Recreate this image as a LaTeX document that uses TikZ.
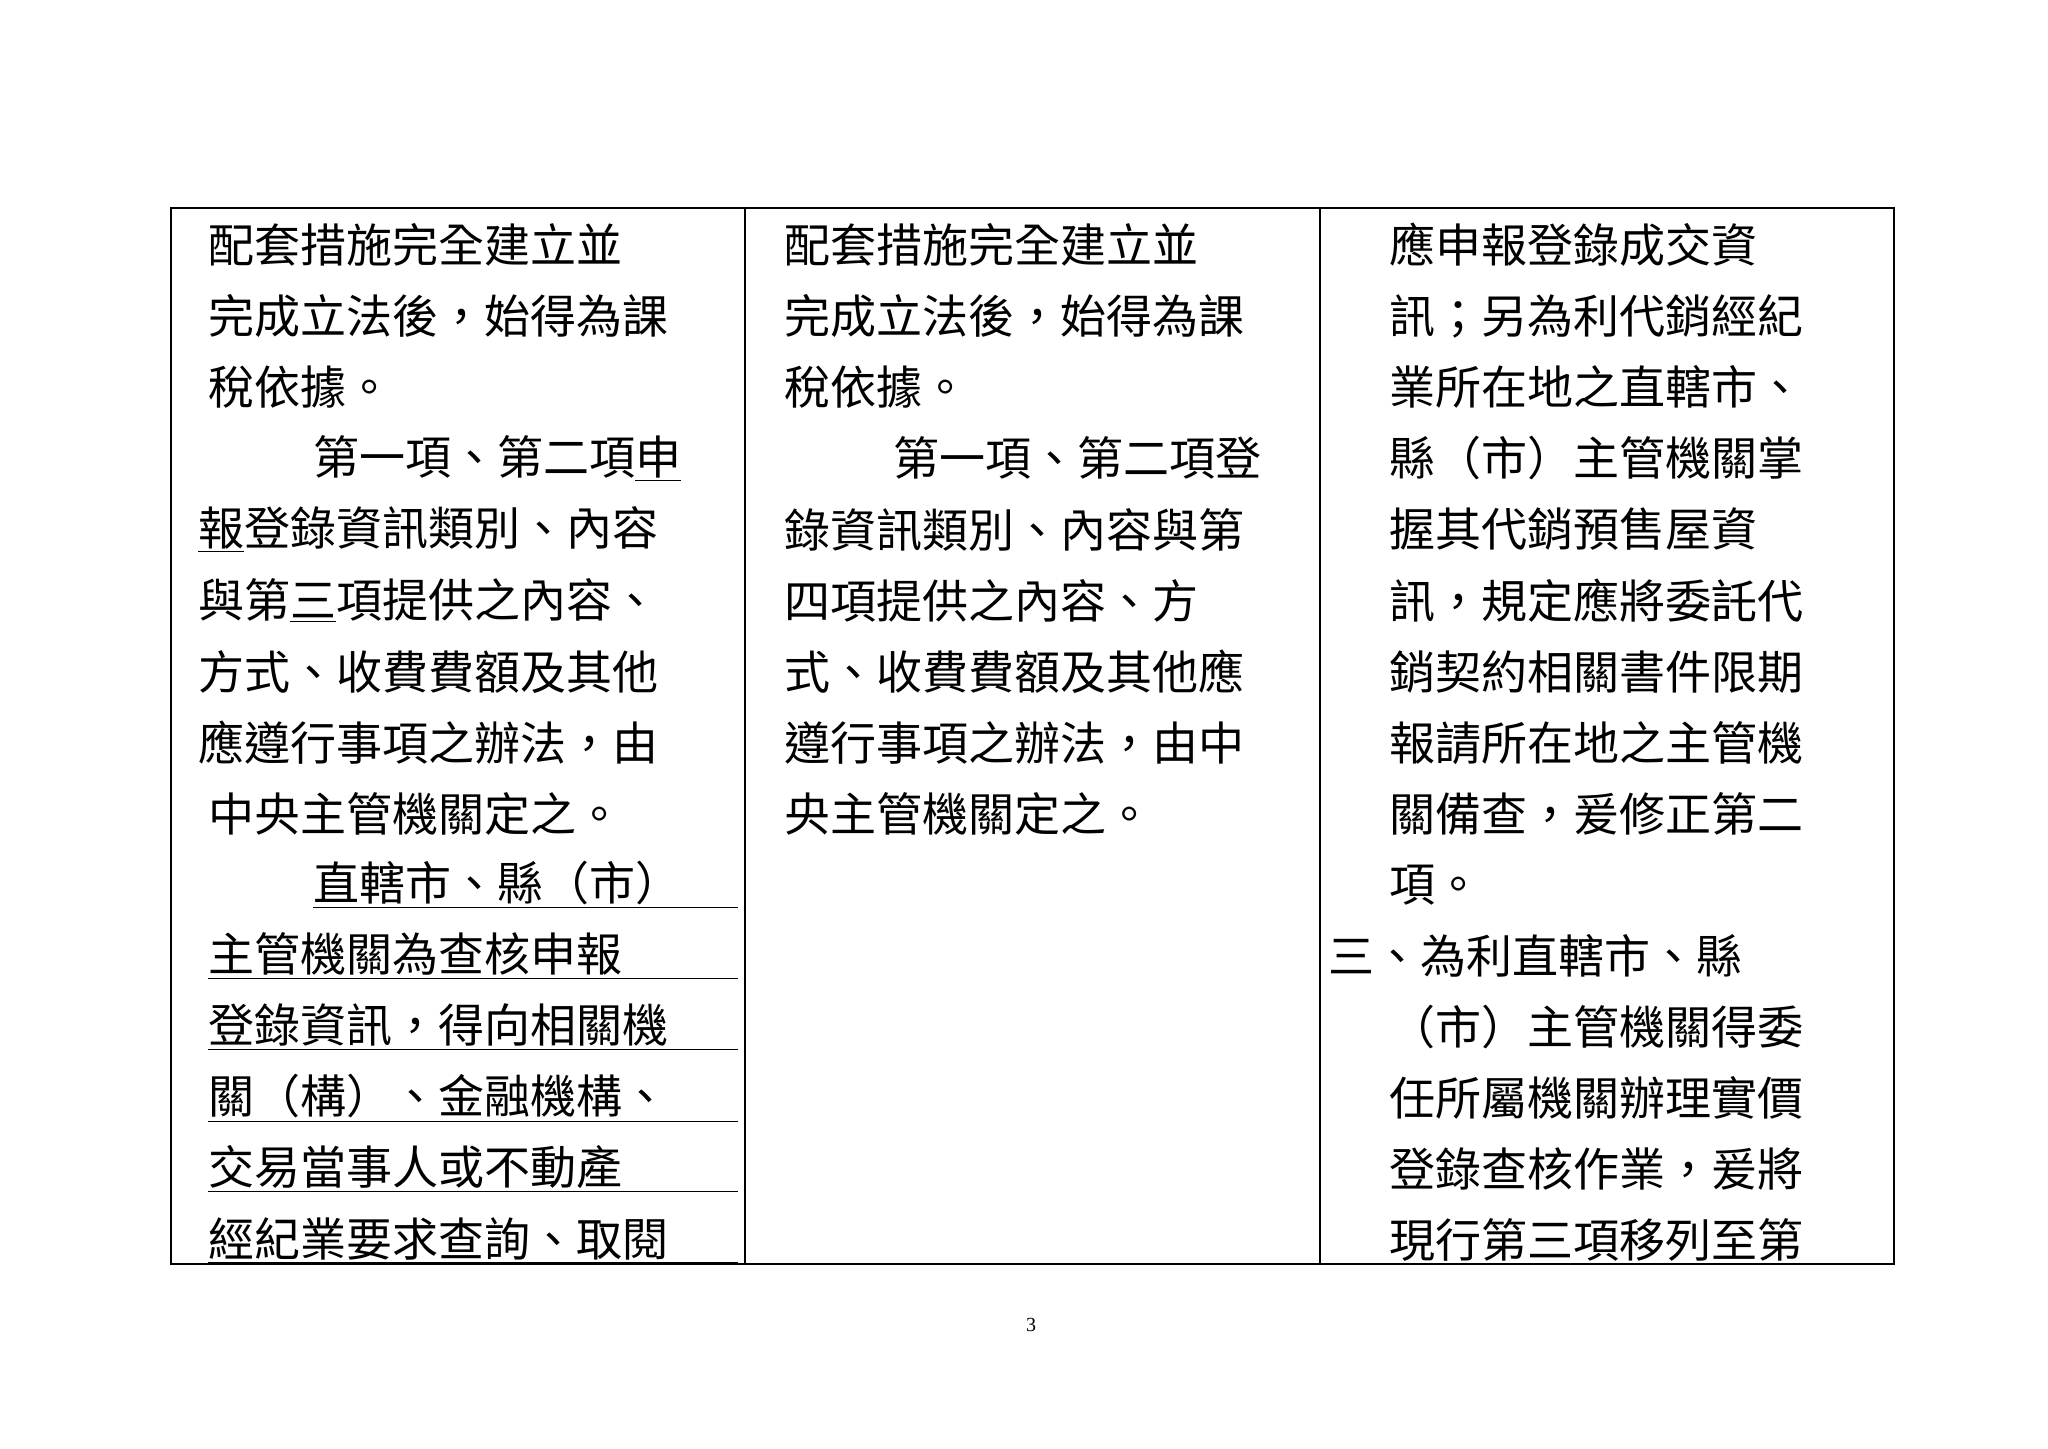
\documentclass[tikz,border=0pt]{standalone}
\usepackage{fontspec}
\setmainfont{Liberation Serif}
\newfontfamily\cjk{Noto Sans CJK TC}
\XeTeXlinebreaklocale "zh"
\XeTeXlinebreakskip=0pt plus 1fil
\begin{document}
\begin{tikzpicture}[x=0.5pt,y=-0.5pt,
  tl/.style={anchor=west,inner sep=0pt,outer sep=0pt,font=\cjk\fontsize{23pt}{23pt}\selectfont},
  frame/.style={line width=0.8pt}]
\useasboundingbox (0,0) rectangle (2048,1448);
\newcommand\LN[4]{\node[tl] at (#1,{245+71.1*#2}) {\makebox[\dimexpr #3pt/2\relax][s]{#4}};}
\newcommand\UL[4]{\node[tl] at (#1,{245+71.1*#2}) {\underline{\makebox[\dimexpr #3pt/2\relax][s]{#4}}};}
\draw[frame] (171,208) rectangle (1894,1264);
\draw[frame] (745,208) -- (745,1264);
\draw[frame] (1320,208) -- (1320,1264);
% column 1
\LN{208}{0}{530}{配套措施完全建立並}
\LN{208}{1}{530}{完成立法後，始得為課}
\LN{208}{2}{224}{稅依據。}
\LN{313}{3}{425}{第一項、第二項\underline{申}}
\LN{198}{4}{540}{\underline{報}登錄資訊類別、內容}
\LN{198}{5}{540}{與第\underline{三}項提供之內容、}
\LN{198}{6}{540}{方式、收費費額及其他}
\LN{198}{7}{540}{應遵行事項之辦法，由}
\LN{208}{8}{519}{中央主管機關定之。}
\UL{313}{9}{425}{直轄市、縣（市）}
\UL{208}{10}{530}{主管機關為查核申報}
\UL{208}{11}{530}{登錄資訊，得向相關機}
\UL{208}{12}{530}{關（構）、金融機構、}
\UL{208}{13}{530}{交易當事人或不動產}
\UL{208}{14}{530}{經紀業要求查詢、取閱}
% column 2
\LN{784}{0}{530}{配套措施完全建立並}
\LN{784}{1}{530}{完成立法後，始得為課}
\LN{784}{2}{224}{稅依據。}
\LN{893}{3}{421}{第一項、第二項登}
\LN{784}{4}{530}{錄資訊類別、內容與第}
\LN{784}{5}{530}{四項提供之內容、方}
\LN{784}{6}{530}{式、收費費額及其他應}
\LN{784}{7}{530}{遵行事項之辦法，由中}
\LN{784}{8}{460}{央主管機關定之。}
% column 3
\LN{1389}{0}{501}{應申報登錄成交資}
\LN{1389}{1}{501}{訊；另為利代銷經紀}
\LN{1389}{2}{501}{業所在地之直轄市、}
\LN{1389}{3}{501}{縣（市）主管機關掌}
\LN{1389}{4}{501}{握其代銷預售屋資}
\LN{1389}{5}{501}{訊，規定應將委託代}
\LN{1389}{6}{501}{銷契約相關書件限期}
\LN{1389}{7}{501}{報請所在地之主管機}
\LN{1389}{8}{501}{關備查，爰修正第二}
\LN{1389}{9}{106}{項。}
\LN{1328}{10}{562}{三、為利直轄市、縣}
\LN{1389}{11}{501}{（市）主管機關得委}
\LN{1389}{12}{501}{任所屬機關辦理實價}
\LN{1389}{13}{501}{登錄查核作業，爰將}
\LN{1389}{14}{501}{現行第三項移列至第}
\node[font=\fontsize{10pt}{12pt}\selectfont] (pg) at (1031,1325) {3};
\end{tikzpicture}
\end{document}
